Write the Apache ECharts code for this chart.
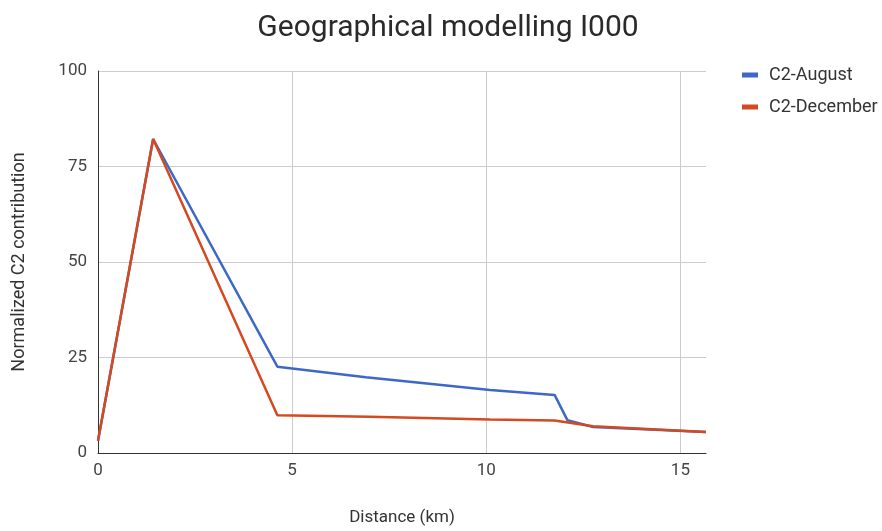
<!DOCTYPE html>
<html>
<head>
<meta charset="utf-8">
<script src="https://cdn.jsdelivr.net/npm/echarts@6/dist/echarts.min.js"></script>
<style>
  html, body { margin: 0; padding: 0; background: #fff; }
  #chart { width: 882px; height: 531px; }
</style>
</head>
<body>
<div id="chart"></div>
<script>
// distances (km) and normalized values
var augustX = [0, 1.42, 4.62, 6.9, 10.1, 11.76, 12.09, 12.75, 15.66];
var augustY = [3.2, 82.2, 22.6, 19.8, 16.5, 15.2, 8.6, 6.8, 5.5];
var decemberX = [0, 1.42, 4.62, 7.0, 10.1, 11.76, 12.75, 15.66];
var decemberY = [3.2, 82.2, 9.9, 9.5, 8.8, 8.5, 7.0, 5.5];
var legendNames = ["C2-August", "C2-December"];

function pairs(xs, ys) {
    var out = [];
    for (var i = 0; i < xs.length; i++) out.push([xs[i], ys[i]]);
    return out;
}

var chart = echarts.init(document.getElementById("chart"));
var option = {
    color: ["#3d68c7", "#d4491f"],
    title: {
        text: "Geographical modelling I000",
        left: 443,
        top: 8,
        textAlign: "center",
        textStyle: {
            fontFamily: "Roboto",
            fontSize: 30,
            fontWeight: "normal",
            color: "#2a2a2a"
        }
    },
    legend: {
        orient: "vertical",
        left: 737,
        top: 61,
        itemWidth: 16,
        itemHeight: 5,
        itemGap: 14,
        icon: "rect",
        textStyle: {
            fontFamily: "Roboto",
            fontSize: 18,
            color: "#333",
            padding: [0, 0, 0, 6]
        },
        data: legendNames
    },
    grid: {
        left: 98,
        right: 176,
        top: 71,
        bottom: 77
    },
    xAxis: {
        type: "value",
        min: 0,
        max: 15.66,
        interval: 5,
        name: "Distance (km)",
        nameLocation: "middle",
        nameGap: 56,
        nameTextStyle: {
            fontFamily: "Roboto",
            fontSize: 17,
            color: "#333"
        },
        axisLine: { lineStyle: { color: "#333", width: 1 } },
        axisTick: { show: false },
        axisLabel: {
            showMaxLabel: false,
            margin: 9,
            fontFamily: "Roboto",
            fontSize: 17,
            color: "#444"
        },
        splitLine: {
            show: true,
            showMaxLine: false,
            lineStyle: { color: "#ccc", width: 1 }
        }
    },
    yAxis: {
        type: "value",
        min: 0,
        max: 100,
        interval: 25,
        name: "Normalized C2 contribution",
        nameLocation: "middle",
        nameGap: 70,
        nameTextStyle: {
            fontFamily: "Roboto",
            fontSize: 18,
            color: "#333"
        },
        axisLine: { show: true, lineStyle: { color: "#333", width: 1 } },
        axisTick: { show: false },
        axisLabel: {
            margin: 11,
            fontFamily: "Roboto",
            fontSize: 17,
            color: "#444"
        },
        splitLine: {
            lineStyle: { color: "#ccc", width: 1 }
        }
    },
    series: [
        {
            name: legendNames[0],
            type: "line",
            symbol: "none",
            lineStyle: { width: 2.5 },
            data: pairs(augustX, augustY)
        },
        {
            name: legendNames[1],
            type: "line",
            symbol: "none",
            lineStyle: { width: 2.5 },
            data: pairs(decemberX, decemberY)
        }
    ]
};
chart.setOption(option, true);
</script>
</body>
</html>
